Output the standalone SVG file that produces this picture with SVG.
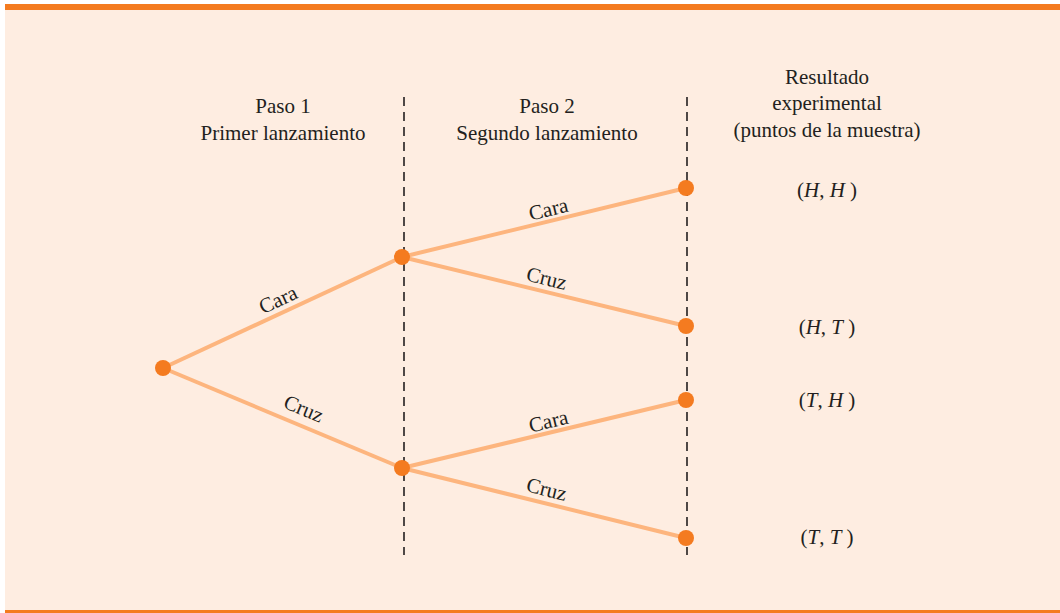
<svg xmlns="http://www.w3.org/2000/svg" width="1060" height="613" viewBox="0 0 1060 613">
<style>
text{font-family:"Liberation Serif","Times New Roman",serif;font-size:21px;fill:#231f20;text-anchor:middle}
.br{stroke:#fdb57e;stroke-width:4;fill:none}
.dash{stroke:#231f20;stroke-width:1.6;stroke-dasharray:9 6;fill:none}
.nd{fill:#f47b20}
.i{font-style:italic}
</style>
<rect x="0" y="0" width="1060" height="613" fill="#ffffff"/>
<rect x="5" y="4" width="1055" height="607" fill="#feede1"/>
<rect x="5" y="4" width="1055" height="6" fill="#f47b20"/>
<rect x="5" y="610" width="1055" height="3" fill="#f47b20"/>
<g id="headers">
<text x="283" y="113">Paso 1</text>
<text x="283" y="140">Primer lanzamiento</text>
<text x="547" y="113">Paso 2</text>
<text x="547" y="140">Segundo lanzamiento</text>
<text x="827" y="84">Resultado</text>
<text x="827" y="110">experimental</text>
<text x="827" y="137">(puntos de la muestra)</text>
</g>
<g id="dividers">
<line class="dash" x1="404" y1="97" x2="404" y2="555"/>
<line class="dash" x1="687" y1="97" x2="687" y2="555"/>
</g>
<g id="connectors">
<line class="br" x1="163" y1="368" x2="402" y2="257"/>
<line class="br" x1="163" y1="368" x2="402" y2="468"/>
<line class="br" x1="402" y1="257" x2="686" y2="188"/>
<line class="br" x1="402" y1="257" x2="686" y2="326"/>
<line class="br" x1="402" y1="468" x2="686" y2="400"/>
<line class="br" x1="402" y1="468" x2="686" y2="538"/>
<text transform="translate(281,306) rotate(-24.9)">Cara</text>
<text transform="translate(301,415) rotate(22.7)">Cruz</text>
<text transform="translate(550,216) rotate(-13.7)">Cara</text>
<text transform="translate(545,285) rotate(13.7)">Cruz</text>
<text transform="translate(550,428) rotate(-13.5)">Cara</text>
<text transform="translate(545,496) rotate(13.9)">Cruz</text>
</g>
<g id="n0"><circle class="nd" cx="163" cy="368" r="8"/></g>
<g id="n1"><circle class="nd" cx="402" cy="257" r="8"/></g>
<g id="n2"><circle class="nd" cx="402" cy="468" r="8"/></g>
<g id="n3"><circle class="nd" cx="686" cy="188" r="8"/></g>
<g id="n4"><circle class="nd" cx="686" cy="326" r="8"/></g>
<g id="n5"><circle class="nd" cx="686" cy="400" r="8"/></g>
<g id="n6"><circle class="nd" cx="686" cy="538" r="8"/></g>
<g id="outcomes">
<text x="827" y="197">(<tspan class="i">H</tspan>, <tspan class="i">H</tspan> )</text>
<text x="827" y="334">(<tspan class="i">H</tspan>, <tspan class="i">T</tspan> )</text>
<text x="827" y="407">(<tspan class="i">T</tspan>, <tspan class="i">H</tspan> )</text>
<text x="827" y="544">(<tspan class="i">T</tspan>, <tspan class="i">T</tspan> )</text>
</g>
</svg>
